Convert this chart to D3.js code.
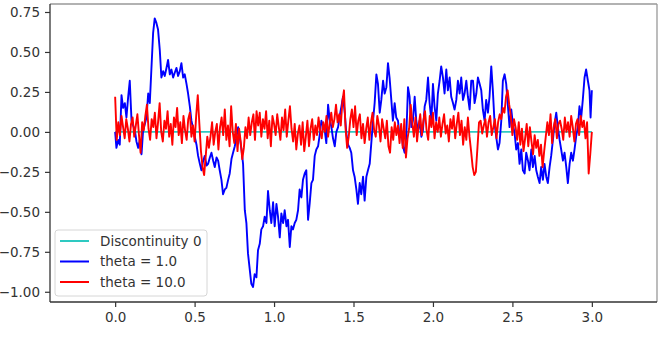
<!DOCTYPE html>
<html>
<head>
<meta charset="utf-8">
<script src="https://cdn.jsdelivr.net/npm/d3@7"></script>
<style>
  body { margin: 0; background: #fff; }
  text { font-family: "DejaVu Sans", sans-serif; }
</style>
</head>
<body>
<div id="graph"></div>
<script>
// x ticks and y ticks as matplotlib shows them
const xTicks = [0, 0.5, 1.0, 1.5, 2.0, 2.5, 3.0]
const yTicks = [0.75, 0.5, 0.25, 0, -0.25, -0.5, -0.75, -1.0]

// Discontinuity 0 is a flat line at zero over the whole time span
const discontinuity = [[0, 0], [3, 0]]

// theta = 1.0 as [t, value]
const theta1 = [
  [0.000, 0.00], [0.008, -0.10], [0.019, -0.05], [0.029, -0.08], [0.040, 0.23], [0.050, 0.15],
  [0.061, 0.18], [0.071, 0.09], [0.082, 0.22], [0.092, 0.32], [0.103, 0.07], [0.113, 0.04],
  [0.124, 0.01], [0.134, -0.06], [0.145, -0.10], [0.155, -0.05], [0.166, -0.14], [0.176, 0.01],
  [0.187, 0.05], [0.197, 0.09], [0.208, 0.24], [0.218, 0.18], [0.228, 0.39], [0.239, 0.62],
  [0.249, 0.71], [0.260, 0.68], [0.270, 0.64], [0.281, 0.51], [0.291, 0.34], [0.302, 0.38],
  [0.312, 0.35], [0.323, 0.40], [0.333, 0.45], [0.344, 0.36], [0.354, 0.39], [0.365, 0.34],
  [0.375, 0.37], [0.386, 0.40], [0.396, 0.35], [0.407, 0.38], [0.417, 0.43], [0.428, 0.34],
  [0.438, 0.36], [0.449, 0.30], [0.459, 0.24], [0.470, 0.16], [0.480, 0.07], [0.491, 0.02],
  [0.501, -0.03], [0.512, -0.08], [0.522, -0.15], [0.533, -0.20], [0.543, -0.24], [0.554, -0.18],
  [0.564, -0.15], [0.575, -0.21], [0.585, -0.20], [0.596, -0.16], [0.606, -0.13], [0.617, -0.18],
  [0.627, -0.22], [0.638, -0.16], [0.648, -0.18], [0.658, -0.24], [0.669, -0.30], [0.679, -0.39],
  [0.690, -0.36], [0.700, -0.35], [0.711, -0.30], [0.721, -0.26], [0.732, -0.17], [0.742, -0.13],
  [0.753, -0.09], [0.764, -0.03], [0.774, 0.03], [0.785, -0.04], [0.795, -0.11], [0.805, -0.20],
  [0.816, -0.49], [0.826, -0.57], [0.836, -0.76], [0.847, -0.86], [0.857, -0.95], [0.868, -0.97],
  [0.878, -0.89], [0.889, -0.91], [0.899, -0.74], [0.910, -0.70], [0.920, -0.61], [0.931, -0.59],
  [0.941, -0.53], [0.952, -0.57], [0.962, -0.37], [0.973, -0.49], [0.983, -0.57], [0.994, -0.44],
  [1.004, -0.59], [1.015, -0.45], [1.025, -0.53], [1.036, -0.66], [1.046, -0.51], [1.057, -0.57],
  [1.067, -0.49], [1.078, -0.59], [1.088, -0.55], [1.099, -0.72], [1.109, -0.59], [1.119, -0.61],
  [1.130, -0.57], [1.140, -0.55], [1.151, -0.49], [1.161, -0.36], [1.172, -0.41], [1.182, -0.30],
  [1.193, -0.26], [1.203, -0.24], [1.214, -0.55], [1.224, -0.45], [1.235, -0.32], [1.245, -0.30],
  [1.256, -0.15], [1.266, -0.11], [1.277, -0.09], [1.287, -0.02], [1.298, 0.07], [1.308, 0.04],
  [1.319, 0.01], [1.329, -0.07], [1.340, 0.17], [1.350, 0.08], [1.361, 0.03], [1.371, -0.04],
  [1.382, -0.09], [1.392, 0.00], [1.403, 0.03], [1.413, 0.10], [1.424, 0.16], [1.434, 0.22],
  [1.445, 0.12], [1.455, -0.01], [1.466, -0.08], [1.476, -0.10], [1.486, -0.13], [1.497, -0.24],
  [1.507, -0.28], [1.518, -0.36], [1.528, -0.45], [1.539, -0.32], [1.549, -0.39], [1.560, -0.28],
  [1.570, -0.43], [1.581, -0.28], [1.591, -0.24], [1.602, -0.20], [1.612, -0.07], [1.623, 0.07],
  [1.633, 0.18], [1.644, 0.36], [1.654, 0.30], [1.665, 0.12], [1.675, 0.20], [1.686, 0.32],
  [1.696, 0.24], [1.707, 0.28], [1.717, 0.43], [1.727, 0.34], [1.738, 0.20], [1.748, 0.07],
  [1.759, 0.18], [1.769, 0.09], [1.780, 0.07], [1.790, -0.03], [1.801, 0.01], [1.811, -0.09],
  [1.822, -0.13], [1.832, -0.03], [1.843, 0.28], [1.853, 0.22], [1.864, 0.03], [1.874, 0.07],
  [1.885, 0.22], [1.895, 0.07], [1.906, 0.01], [1.916, 0.07], [1.927, -0.03], [1.937, 0.01],
  [1.948, 0.16], [1.958, 0.20], [1.969, 0.34], [1.979, 0.18], [1.990, 0.07], [2.000, 0.30],
  [2.010, 0.16], [2.021, 0.07], [2.031, 0.24], [2.042, 0.32], [2.052, 0.41], [2.063, 0.34],
  [2.073, 0.24], [2.084, 0.39], [2.094, 0.26], [2.105, 0.34], [2.115, 0.22], [2.126, 0.18],
  [2.136, 0.14], [2.147, 0.20], [2.157, 0.32], [2.168, 0.24], [2.178, 0.34], [2.189, 0.20],
  [2.199, 0.24], [2.210, 0.32], [2.220, 0.22], [2.231, 0.14], [2.241, 0.32], [2.252, 0.32],
  [2.262, 0.18], [2.273, 0.24], [2.283, 0.34], [2.294, 0.30], [2.304, 0.26], [2.314, 0.14],
  [2.325, 0.07], [2.335, 0.20], [2.346, 0.12], [2.356, 0.22], [2.367, 0.41], [2.377, 0.26],
  [2.388, 0.05], [2.398, -0.03], [2.409, -0.11], [2.419, -0.07], [2.430, 0.07], [2.440, 0.32],
  [2.451, 0.36], [2.461, 0.30], [2.472, 0.16], [2.482, 0.03], [2.493, 0.14], [2.503, 0.05],
  [2.514, -0.01], [2.524, -0.11], [2.535, -0.07], [2.545, -0.20], [2.556, -0.11], [2.566, -0.24],
  [2.577, -0.26], [2.587, -0.13], [2.598, -0.18], [2.608, -0.24], [2.619, -0.11], [2.629, -0.22],
  [2.640, -0.15], [2.650, -0.24], [2.660, -0.28], [2.671, -0.32], [2.681, -0.22], [2.692, -0.30],
  [2.702, -0.20], [2.713, -0.28], [2.723, -0.32], [2.734, -0.22], [2.744, -0.15], [2.755, -0.05],
  [2.765, 0.05], [2.776, 0.12], [2.786, 0.03], [2.797, -0.05], [2.807, -0.11], [2.818, -0.18],
  [2.828, -0.13], [2.839, -0.22], [2.849, -0.32], [2.860, -0.20], [2.870, -0.13], [2.881, -0.18],
  [2.891, -0.11], [2.901, -0.03], [2.912, 0.03], [2.922, 0.16], [2.933, 0.09], [2.943, 0.20],
  [2.954, 0.34], [2.964, 0.39], [2.975, 0.32], [2.985, 0.26], [2.992, 0.09], [3.000, 0.26]
]

// theta = 10.0, one value every 0.01 from t = 0 to t = 3
const theta10Step = 0.01
const theta10 = [
  0.22, -0.05, 0.06, -0.02, 0.10, 0.03, -0.04, 0.08, 0.02, -0.06,
  0.05, 0.09, -0.03, 0.04, 0.11, -0.02, -0.13, 0.06, 0.01, 0.10,
  0.17, 0.02, -0.05, 0.08, 0.03, 0.12, -0.04, 0.06, 0.18, 0.00,
  -0.06, 0.07, 0.02, 0.13, -0.03, 0.05, -0.08, 0.09, 0.03, 0.15,
  -0.02, 0.06, -0.07, 0.10, 0.01, -0.05, 0.08, 0.12, -0.03, 0.04,
  -0.06, 0.10, 0.23, 0.05, -0.12, -0.22, -0.27, -0.15, -0.03, -0.10,
  -0.03, 0.06, -0.08, 0.00, 0.05, -0.11, 0.03, 0.09, -0.02, 0.14,
  -0.05, 0.04, -0.09, 0.16, 0.00, -0.07, 0.05, -0.12, 0.02, -0.06,
  -0.17, -0.10, 0.03, -0.04, 0.09, -0.02, 0.06, 0.11, -0.05, 0.13,
  0.04, 0.12, -0.03, 0.08, 0.02, 0.13, -0.04, 0.07, -0.09, 0.10,
  0.05, -0.02, 0.11, 0.03, -0.05, 0.09, 0.01, 0.14, -0.03, 0.07,
  0.16, 0.02, -0.06, 0.05, -0.11, -0.01, 0.04, -0.08, 0.06, -0.12,
  -0.03, 0.07, -0.09, 0.02, 0.08, -0.05, 0.04, -0.02, 0.09, 0.01,
  -0.04, 0.06, 0.00, 0.10, -0.03, 0.05, 0.12, 0.03, 0.08, 0.17,
  0.06, 0.11, 0.04, 0.19, 0.26, 0.02, -0.10, -0.03, 0.08, 0.14,
  0.03, 0.16, -0.02, 0.07, 0.11, -0.04, 0.05, -0.07, 0.02, 0.09,
  -0.05, 0.06, 0.12, 0.01, -0.03, 0.10, 0.04, -0.06, 0.08, 0.02,
  -0.04, 0.07, -0.09, -0.13, 0.03, -0.05, 0.06, -0.02, 0.04, -0.07,
  0.05, -0.10, 0.08, -0.16, -0.04, 0.02, 0.17, 0.06, -0.03, 0.09,
  -0.06, 0.04, 0.11, -0.02, 0.07, 0.13, 0.01, -0.05, 0.10, 0.03,
  0.12, -0.04, 0.06, 0.00, 0.09, -0.03, 0.05, 0.11, -0.01, 0.04,
  -0.06, 0.08, 0.02, 0.10, -0.04, 0.05, 0.12, -0.02, 0.07, -0.08,
  0.03, -0.05, 0.09, -0.03, -0.12, -0.22, -0.27, -0.25, -0.10, 0.06,
  0.07, -0.01, 0.04, 0.08, -0.03, 0.06, 0.10, -0.02, 0.03, 0.08,
  -0.04, 0.06, 0.11, 0.08, 0.15, 0.12, 0.22, 0.26, 0.17, 0.10,
  -0.02, 0.08, 0.03, -0.05, 0.06, -0.08, 0.02, -0.12, -0.04, 0.05,
  -0.09, 0.03, -0.06, -0.14, -0.02, -0.10, -0.05, -0.15, -0.08, -0.22,
  -0.12, -0.03, 0.06, -0.02, 0.11, -0.07, 0.03, 0.08, -0.04, 0.05,
  0.07, 0.02, -0.05, 0.09, 0.00, 0.06, -0.03, 0.10, 0.03, -0.06,
  0.05, 0.08, -0.02, 0.10, 0.03, 0.07, -0.04, 0.06, -0.26, -0.14,
  0.00
]

const labels = ["Discontinuity 0", "theta = 1.0", "theta = 10.0"]
const colors = ["#2ec9c1", "#0000ff", "#ff0000"]

const W = 663, H = 339
const margin = { top: 4, right: 6, bottom: 37, left: 50 }

const svg = d3.select("#graph")
  .append("svg")
  .attr("width", W)
  .attr("height", H)

const x = d3.scaleLinear()
  .domain([-0.41, 3.41])
  .range([margin.left, W - margin.right])

const y = d3.scaleLinear()
  .domain([-1.064, 0.80])
  .range([H - margin.bottom, margin.top])

const fmt = v => (v < 0 ? "\u2212" : "") + Math.abs(v).toFixed(2)

// axes
const xAxis = svg.append("g")
  .attr("transform", "translate(0," + (H - margin.bottom) + ")")
  .call(d3.axisBottom(x).tickValues(xTicks).tickFormat(d3.format(".1f")).tickSize(5).tickPadding(5))

const yAxis = svg.append("g")
  .attr("transform", "translate(" + margin.left + ",0)")
  .call(d3.axisLeft(y).tickValues(yTicks).tickFormat(fmt).tickSize(5).tickPadding(5))

;[xAxis, yAxis].forEach(g => {
  g.select(".domain").remove()
  g.selectAll("line").attr("stroke", "#333").attr("stroke-width", 1.2)
  g.selectAll("text").attr("font-size", 13.5).attr("fill", "#333")
})

// frame
svg.append("line").attr("x1", margin.left).attr("x2", W - margin.right)
  .attr("y1", margin.top).attr("y2", margin.top).attr("stroke", "#999").attr("stroke-width", 1.6)
svg.append("line").attr("x1", W - margin.right).attr("x2", W - margin.right)
  .attr("y1", margin.top).attr("y2", H - margin.bottom).attr("stroke", "#999").attr("stroke-width", 1.3)
svg.append("line").attr("x1", margin.left).attr("x2", margin.left)
  .attr("y1", margin.top).attr("y2", H - margin.bottom).attr("stroke", "#333").attr("stroke-width", 1.3)
svg.append("line").attr("x1", margin.left).attr("x2", W - margin.right)
  .attr("y1", H - margin.bottom).attr("y2", H - margin.bottom).attr("stroke", "#333").attr("stroke-width", 1.3)

// series
const line = d3.line().x(d => x(d[0])).y(d => y(d[1]))
const redPoints = theta10.map((v, i) => [i * theta10Step, v])

const series = [discontinuity, theta1, redPoints]
series.forEach((data, i) => {
  svg.append("path")
    .datum(data)
    .attr("fill", "none")
    .attr("stroke", colors[i])
    .attr("stroke-width", 1.9)
    .attr("stroke-linejoin", "round")
    .attr("d", line)
})

// legend
const legend = svg.append("g").attr("transform", "translate(55,230)")
legend.append("rect")
  .attr("width", 152).attr("height", 66).attr("rx", 3)
  .attr("fill", "#fff").attr("fill-opacity", 0.8)
  .attr("stroke", "#d6d6d6")

labels.forEach((name, i) => {
  const cy = 11 + i * 20.5
  legend.append("line")
    .attr("x1", 5).attr("x2", 34)
    .attr("y1", cy).attr("y2", cy)
    .attr("stroke", colors[i]).attr("stroke-width", 2)
  legend.append("text")
    .attr("x", 45).attr("y", cy)
    .attr("dy", "0.35em")
    .attr("font-size", 13.5)
    .attr("fill", "#333")
    .text(name)
})
</script>
</body>
</html>
